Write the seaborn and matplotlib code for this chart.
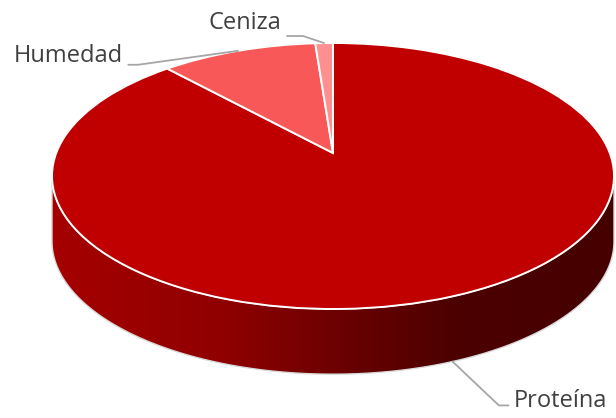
import numpy as np
import matplotlib
matplotlib.use("Agg")
import matplotlib.pyplot as plt
from matplotlib.colors import LinearSegmentedColormap
from matplotlib.patches import Polygon
from matplotlib.transforms import Transform
import seaborn as sns

# data
labels = ["Proteína", "Humedad", "Ceniza"]
values = [88.2, 10.6, 1.2]
colors = ["#C00000", "#F95858", "#FF9090"]

sns.set_style("white")
plt.rcParams["font.family"] = ["Open Sans", "DejaVu Sans"]


class Tilt(Transform):
    """Perspective tilt: keeps the unit circle, moves the centre up by a."""
    input_dims = output_dims = 2

    def __init__(self, a):
        super().__init__()
        self.a = a

    def transform_non_affine(self, xy):
        xy = np.asarray(xy, dtype=float).reshape(-1, 2)
        x, y = xy[:, 0], xy[:, 1]
        d = 1 + self.a * y
        return np.column_stack([x * np.sqrt(1 - self.a ** 2) / d, (y + self.a) / d])


fig = plt.figure(figsize=(6.16, 4.18), dpi=100)
ax = fig.add_axes([0, 0, 1, 1])

depth = 0.49  # thickness of the 3D side wall (in pie radius units)
tilt = Tilt(0.173)

# top face of the pie
wedges, _ = ax.pie(values, colors=colors, startangle=90, counterclock=False,
                   radius=1, center=(0, 0),
                   wedgeprops=dict(edgecolor="white", linewidth=1.4, zorder=3))
for w in wedges:
    w.set_transform(tilt + ax.transData)

# side wall: front half of the ellipse extruded downward
t = np.linspace(np.pi, 2 * np.pi, 200)
top_edge = np.column_stack([np.cos(t), np.sin(t)])
bot_edge = np.column_stack([np.cos(t[::-1]), np.sin(t[::-1]) - depth])
wall = Polygon(np.vstack([top_edge, bot_edge]), closed=True,
               facecolor="none", edgecolor="#D9D9D9", linewidth=1.0, zorder=2)
ax.add_patch(wall)
side_cmap = LinearSegmentedColormap.from_list(
    "side", [(0.0, "#A50000"), (0.3, "#900000"), (0.55, "#650000"),
             (0.72, "#4C0000"), (1.0, "#460000")])
grad = np.linspace(0, 1, 256).reshape(1, -1)
img = ax.imshow(grad, extent=[-1, 1, -1 - depth, 0], aspect="auto",
                cmap=side_cmap, zorder=1, interpolation="bilinear")
img.set_clip_path(wall)

# labels with leader lines, anchored at the middle of each slice
line_kw = dict(color="#A6A6A6", linewidth=1.3, zorder=4)
text_kw = dict(fontsize=17, color="#404040", va="center", zorder=5)
for w, lab in zip(wedges, labels):
    mid = np.deg2rad((w.theta1 + w.theta2) / 2)
    x0, y0 = tilt.transform_non_affine([[np.cos(mid), np.sin(mid)]])[0]
    if lab == "Proteína":
        y0 -= depth
        elbow = (x0 + 0.165, y0 - 0.33)
        end = (elbow[0] + 0.034, elbow[1])
        ax.plot([x0, elbow[0], end[0]], [y0, elbow[1], end[1]], **line_kw)
        ax.text(end[0] + 0.018, end[1] + 0.03, lab, ha="left", **text_kw)
    elif lab == "Humedad":
        elbow = (x0 - 0.356, y0 - 0.105)
        end = (elbow[0] - 0.035, elbow[1])
        ax.plot([x0, elbow[0], end[0]], [y0, elbow[1], end[1]], **line_kw)
        ax.text(end[0] - 0.02, end[1] + 0.068, lab, ha="right", **text_kw)
    else:
        elbow = (x0 - 0.075, y0 + 0.053)
        end = (elbow[0] - 0.057, elbow[1])
        ax.plot([x0, elbow[0], end[0]], [y0, elbow[1], end[1]], **line_kw)
        ax.text(end[0] - 0.02, end[1] + 0.1, lab, ha="right", **text_kw)

ax.set_aspect("auto")
ax.set_xlim(-333 / 281, 283 / 281)
ax.set_ylim(-242 / 133, 176 / 133)
ax.axis("off")

fig.savefig("out.png", dpi=100, facecolor="white")
